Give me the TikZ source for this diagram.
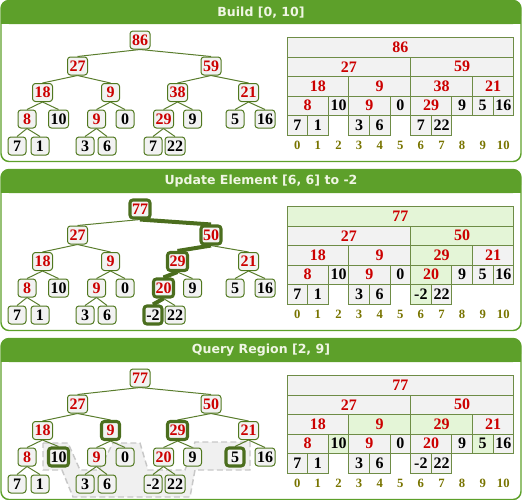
\documentclass[tikz,border=0pt]{standalone}
\usepackage{fontspec}
\setmainfont{Liberation Serif}
\newfontfamily\headfont{DejaVu Sans}

\definecolor{headgreen}{RGB}{93,160,42}
\definecolor{headwhite}{RGB}{240,246,228}
\definecolor{nodegreen}{RGB}{80,120,30}
\definecolor{linkgreen}{RGB}{90,125,45}
\definecolor{hotgreen}{RGB}{75,110,30}
\definecolor{cellline}{RGB}{110,140,70}
\definecolor{cellgray}{RGB}{242,242,242}
\definecolor{cellhot}{RGB}{228,245,215}
\definecolor{numred}{RGB}{204,0,0}
\definecolor{idxolive}{RGB}{120,116,0}
\definecolor{zonefill}{RGB}{240,240,240}
\definecolor{zoneline}{RGB}{200,200,200}

\pgfdeclarelayer{zone}
\pgfdeclarelayer{wire}
\pgfsetlayers{zone,wire,main}

\tikzset{
  panelline/.style={draw=headgreen, line width=1.1pt},
  headtext/.style={text=headwhite, font=\headfont\bfseries\fontsize{9.4}{11}\selectfont},
  tnode/.style={draw=nodegreen, fill=cellgray, line width=0.75pt, rounded corners=2.2pt,
    minimum width=13.5pt, minimum height=13.5pt, inner xsep=1.5pt, inner ysep=1pt,
    font=\bfseries\fontsize{12}{14}\selectfont},
  hot/.style={draw=hotgreen, line width=2.3pt},
  cold/.style={},
  cell/.style={draw=cellline, fill=cellgray, line width=0.75pt, minimum height=14.625pt,
    inner sep=0pt, font=\bfseries\fontsize{12}{14}\selectfont},
  hotcell/.style={fill=cellhot},
  coldcell/.style={},
  link/.style={draw=linkgreen, line width=0.75pt},
  hotlink/.style={draw=hotgreen, line width=3pt},
  idx/.style={text=idxolive, inner sep=0pt, font=\bfseries\fontsize{9.5}{11}\selectfont},
  zone/.style={fill=zonefill, draw=zoneline, line width=1.1pt, dash pattern=on 4.5pt off 2.5pt},
}

% id / tree x / tree y / table row / first col / last col / text colour
\def\segdata{1/140/40/1/0/10/numred, 2/77.5/66/2/0/5/numred, 3/211/66/2/6/10/numred,
  4/42.5/92.5/3/0/2/numred, 5/110.5/92.5/3/3/5/numred, 6/177.5/92.5/3/6/8/numred,
  7/248.5/92.5/3/9/10/numred, 8/27/119/4/0/1/numred, 9/58.5/119/4/2/2/black,
  10/96.5/119/4/3/4/numred, 11/125/119/4/5/5/black, 12/163.5/119/4/6/7/numred,
  13/192.5/119/4/8/8/black, 14/235/119/4/9/9/black, 15/265/119/4/10/10/black,
  16/17/146/5/0/0/black, 17/40/146/5/1/1/black, 20/85/146/5/3/3/black,
  21/107/146/5/4/4/black, 24/153/146/5/6/6/black, 25/175/146/5/7/7/black}

% #1 prefix, #2 top, #3 title, #4 values, #5 hot flags
\newcommand\segpanel[5]{%
  \begin{scope}[shift={(0,#2)}]
    \draw[panelline, rounded corners=6pt] (1,0.5) rectangle (521,161.5);
    \fill[headgreen, rounded corners=6pt] (1,0.5) rectangle (521,24);
    \fill[headgreen] (1,12) rectangle (521,24);
    \node[headtext] (#1t) at (261,12.5) {#3};
    \foreach \id/\x/\y/\row/\lo/\hi/\col [count=\k from 0] in \segdata {
      \pgfmathtruncatemacro\val{{#4}[\k]}
      \pgfmathtruncatemacro\hot{{#5}[\k]}
      \ifnum\hot=1 \def\hs{hot}\def\hc{hotcell}\else\def\hs{cold}\def\hc{coldcell}\fi
      \node[tnode, text=\col, \hs] (#1\id) at (\x,\y) {\val};
      \node[cell, text=\col, \hc, minimum width={(\hi-\lo+1)*15.45pt}]
        (#1c\id) at ({287+10.3*(\lo+\hi+1)},{27.75+19.5*\row}) {\val};
    }
    \foreach \k in {0,...,10}
      \node[idx] (#1x\k) at ({297.3+20.6*\k},145.7) {\k};
    \begin{pgfonlayer}{wire}
      \foreach \ch in {2,3,...,17,20,21,24,25} {
        \pgfmathtruncatemacro\up{\ch/2}
        \draw[link] (#1\up.south) -- (#1\ch.north);
      }
    \end{pgfonlayer}
  \end{scope}}

\begin{document}
\begin{tikzpicture}[x=0.75pt, y=-0.75pt]
    \useasboundingbox (0,0) rectangle (522,500);
    %
    \segpanel{b}{0}{Build [0, 10]}
      {86,27,59,18,9,38,21,8,10,9,0,29,9,5,16,7,1,3,6,7,22}
      {0,0,0,0,0,0,0,0,0,0,0,0,0,0,0,0,0,0,0,0,0}
    \segpanel{u}{169}{Update Element [6, 6] to -2}
      {77,27,50,18,9,29,21,8,10,9,0,20,9,5,16,7,1,3,6,-2,22}
      {1,0,1,0,0,1,0,0,0,0,0,1,0,0,0,0,0,0,0,1,0}
    \segpanel{q}{338}{Query Region [2, 9]}
      {77,27,50,18,9,29,21,8,10,9,0,20,9,5,16,7,1,3,6,-2,22}
      {0,0,0,0,1,1,0,0,1,0,0,0,0,1,0,0,0,0,0,0,0}
    %
    \begin{pgfonlayer}{wire}
      \draw[hotlink] (u1.south) -- (u3.north);
      \draw[hotlink] (u3.south) -- (u6.north);
      \draw[hotlink] (u6.south) -- (u12.north);
      \draw[hotlink] (u12.south) -- (u24.north);
    \end{pgfonlayer}
    %
    \begin{pgfonlayer}{zone}
      \draw[zone, shift={(0,338)}] (43,105) -- (68,105) -- (80,132) -- (99,132) -- (113,105)
        -- (140,105) -- (148,132) -- (185,132) -- (195,104) -- (250,104) -- (250,132)
        -- (195,132) -- (190,159) -- (73,159) -- (62,132) -- (43,132) -- cycle;
    \end{pgfonlayer}
\end{tikzpicture}
\end{document}
